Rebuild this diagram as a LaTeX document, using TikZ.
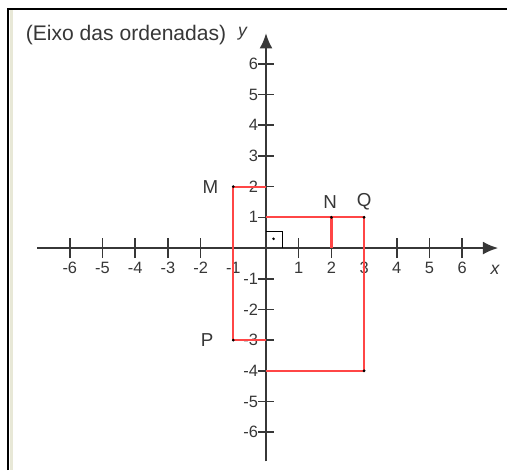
\documentclass[tikz,border=0pt]{standalone}
\usepackage{fontspec}
\setmainfont{Liberation Sans}
\definecolor{axisgray}{RGB}{55, 55, 55}
\definecolor{textgray}{RGB}{55, 55, 55}
\definecolor{redline}{RGB}{255, 70, 70}
\definecolor{framebeige}{RGB}{232, 232, 215}
\usetikzlibrary{arrows.meta,positioning}

\begin{document}
\begin{tikzpicture}[x=0.981cm, y=0.921cm,
    axisline/.style={axisgray, line width=1.6pt},
    ticklabel/.style={textgray, font=\fontsize{14}{14}\selectfont, inner sep=1pt},
    pointlabel/.style={textgray, font=\fontsize{16}{16}\selectfont},
    segment/.style={redline, line width=1.5pt}]
                \useasboundingbox (-8.135,-7.23) rectangle (7.37,8.08);

                % Frame
                \draw[framebeige, line width=2pt] (-7.78,7.75) -- (-7.78,-7.23);
                \draw[black, line width=1.8pt] (-7.89,-7.23) -- (-7.89,7.80) -- (7.37,7.80);

                % Axis
                \draw[axisline, -{Latex[length=13pt,width=11pt]}] (-7.0,0) -- (7.1,0);
                \draw[axisline, -{Latex[length=13pt,width=11pt]}] (0,-6.95) -- (0,7.0);
                \foreach \k in {-6,...,-1,1,2,...,6} {
                    \draw[axisline, line width=1.3pt] (\k,-0.33) -- (\k,0.33);
                    \draw[axisline, line width=1.3pt] (-0.25,\k) -- (0.25,\k);
                    \node[ticklabel, anchor=north] (xl\k) at (\k,-0.42) {\k};
                    \node[ticklabel, anchor=east] (yl\k) at (-0.2,\k) {\k};
                }

                % Labels
                \node[textgray, font=\fontsize{18}{18}\selectfont] (title) at (-4.28,6.94) {(Eixo das ordenadas)};
                \node[textgray, font=\fontsize{15}{15}\selectfont\itshape] (ylab) at (-0.72,6.98) {y};
                \node[textgray, font=\fontsize{15}{15}\selectfont\itshape] (xlab) at (7.0,-0.72) {x};

                % Right angle mark
                \draw[black, line width=1pt] (0,0.55) -- (0.5,0.55) -- (0.5,0);
                \fill[black] (0.23,0.3) circle (1.2pt);

                % Points
                \coordinate (M) at (-1,2);
                \coordinate (M0) at (0,2);
                \coordinate (P) at (-1,-3);
                \coordinate (P0) at (0,-3);
                \coordinate (N) at (2,1);
                \coordinate (N0) at (2,0);
                \coordinate (Q) at (3,1);
                \coordinate (Q0) at (0,1);
                \coordinate (R) at (3,-4);
                \coordinate (R0) at (0,-4);

                % Segments
                \draw[segment] (M0) -- (M) -- (P) -- (P0);
                \draw[segment] (Q0) -- (Q) -- (R) -- (R0);
                \draw[segment, line width=2.4pt] (N0) -- (N);
                \foreach \p in {M,P,N,Q,R} \fill[black] (\p) circle (1.3pt);

                \node[pointlabel] (Mlab) at (-1.7,2.0) {M};
                \node[pointlabel] (Plab) at (-1.8,-3.0) {P};
                \node[pointlabel] (Nlab) at (1.96,1.5) {N};
                \node[pointlabel] (Qlab) at (3.0,1.5) {Q};
            \end{tikzpicture}
\end{document}
